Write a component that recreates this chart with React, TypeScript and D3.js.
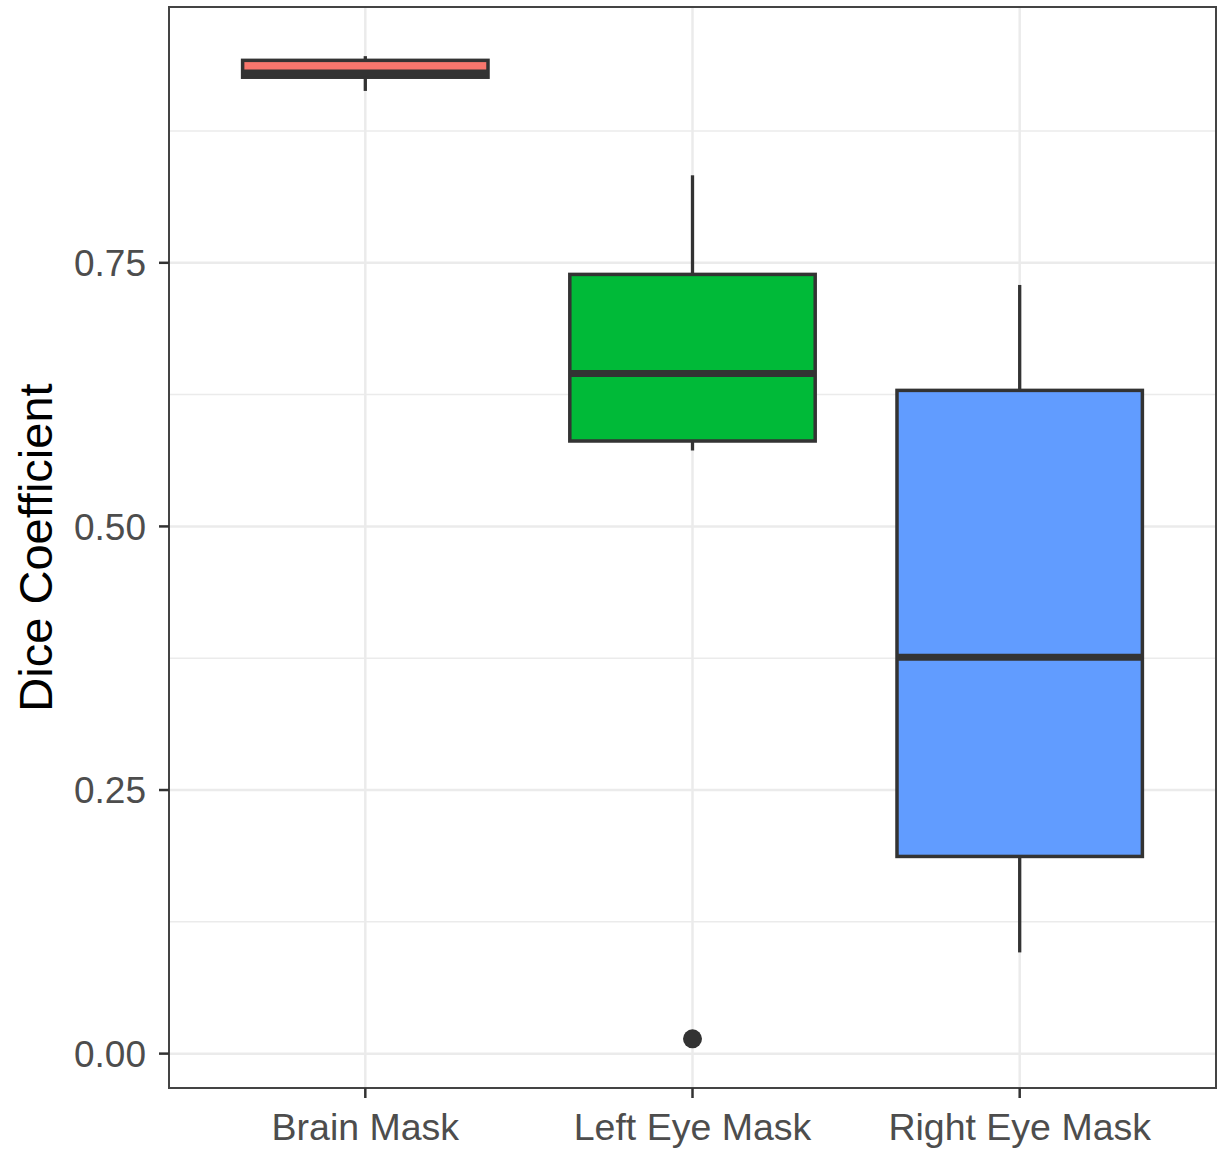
import React from 'react';
import * as d3 from 'd3';

const categories = ['Brain Mask', 'Left Eye Mask', 'Right Eye Mask'];
const whiskerLow = [0.913, 0.572, 0.096];
const q1 = [0.926, 0.581, 0.187];
const median = [0.93, 0.645, 0.376];
const q3 = [0.942, 0.739, 0.629];
const whiskerHigh = [0.946, 0.833, 0.729];
const outliers = [[], [0.014], []];
const fills = ['#F8766D', '#00BA38', '#619CFF'];
const yTicks = [0, 0.25, 0.5, 0.75];
const yMinorTicks = [0.125, 0.375, 0.625, 0.875];

const W = 1225;
const H = 1151;
const panel = { left: 169, right: 1216, top: 7, bottom: 1088 };
const font = '"Liberation Sans", Arial, Helvetica, sans-serif';

export default function App() {
  // ggplot style 5% expansion of the data range
  const all = [...whiskerLow, ...whiskerHigh, ...outliers.flat()];
  const [lo, hi] = d3.extent(all) as [number, number];
  const pad = (hi - lo) * 0.05;

  const y = d3
    .scaleLinear()
    .domain([lo - pad, hi + pad])
    .range([panel.bottom, panel.top]);

  const x = d3
    .scalePoint<string>()
    .domain(categories)
    .range([panel.left, panel.right])
    .padding(0.6);

  const boxW = x.step() * 0.75;

  return (
    <svg
      width={W}
      height={H}
      style={{ position: 'absolute', left: 0, top: 0, background: '#fff' }}
      fontFamily={font}
    >
      {/* minor grid */}
      {yMinorTicks.map((t) => (
        <line
          key={'mn' + t}
          x1={panel.left}
          x2={panel.right}
          y1={y(t)}
          y2={y(t)}
          stroke="#EBEBEB"
          strokeWidth={1.5}
        />
      ))}
      {/* major grid */}
      {yTicks.map((t) => (
        <line
          key={'mj' + t}
          x1={panel.left}
          x2={panel.right}
          y1={y(t)}
          y2={y(t)}
          stroke="#EBEBEB"
          strokeWidth={2.5}
        />
      ))}
      {categories.map((c) => (
        <line
          key={'vx' + c}
          x1={x(c)}
          x2={x(c)}
          y1={panel.top}
          y2={panel.bottom}
          stroke="#EBEBEB"
          strokeWidth={2.5}
        />
      ))}

      {/* boxes */}
      {categories.map((c, i) => {
        const cx = x(c) as number;
        return (
          <g key={c}>
            <line x1={cx} x2={cx} y1={y(whiskerHigh[i])} y2={y(q3[i])} stroke="#333" strokeWidth={3.3} />
            <line x1={cx} x2={cx} y1={y(q1[i])} y2={y(whiskerLow[i])} stroke="#333" strokeWidth={3.3} />
            <rect
              x={cx - boxW / 2}
              y={y(q3[i])}
              width={boxW}
              height={y(q1[i]) - y(q3[i])}
              fill={fills[i]}
              stroke="#333"
              strokeWidth={3.5}
            />
            <line
              x1={cx - boxW / 2}
              x2={cx + boxW / 2}
              y1={y(median[i])}
              y2={y(median[i])}
              stroke="#333"
              strokeWidth={7}
            />
            {outliers[i].map((v, j) => (
              <circle key={j} cx={cx} cy={y(v)} r={9.5} fill="#333" />
            ))}
          </g>
        );
      })}

      {/* panel border */}
      <rect
        x={panel.left}
        y={panel.top}
        width={panel.right - panel.left}
        height={panel.bottom - panel.top}
        fill="none"
        stroke="#444"
        strokeWidth={2}
      />

      {/* y axis */}
      {yTicks.map((t) => (
        <g key={'yt' + t}>
          <line x1={panel.left - 10} x2={panel.left} y1={y(t)} y2={y(t)} stroke="#333" strokeWidth={2.5} />
          <text
            x={panel.left - 23}
            y={y(t)}
            dy="0.36em"
            textAnchor="end"
            fontSize={37}
            fill="#4D4D4D"
          >
            {d3.format('.2f')(t)}
          </text>
        </g>
      ))}

      {/* x axis */}
      {categories.map((c) => (
        <g key={'xt' + c}>
          <line x1={x(c)} x2={x(c)} y1={panel.bottom} y2={panel.bottom + 10} stroke="#333" strokeWidth={2.5} />
          <text x={x(c)} y={1140} textAnchor="middle" fontSize={37.5} fill="#4D4D4D">
            {c}
          </text>
        </g>
      ))}

      <text
        transform={`translate(52, ${(panel.top + panel.bottom) / 2}) rotate(-90)`}
        textAnchor="middle"
        fontSize={47}
        fill="#000"
      >
        Dice Coefficient
      </text>
    </svg>
  );
}
